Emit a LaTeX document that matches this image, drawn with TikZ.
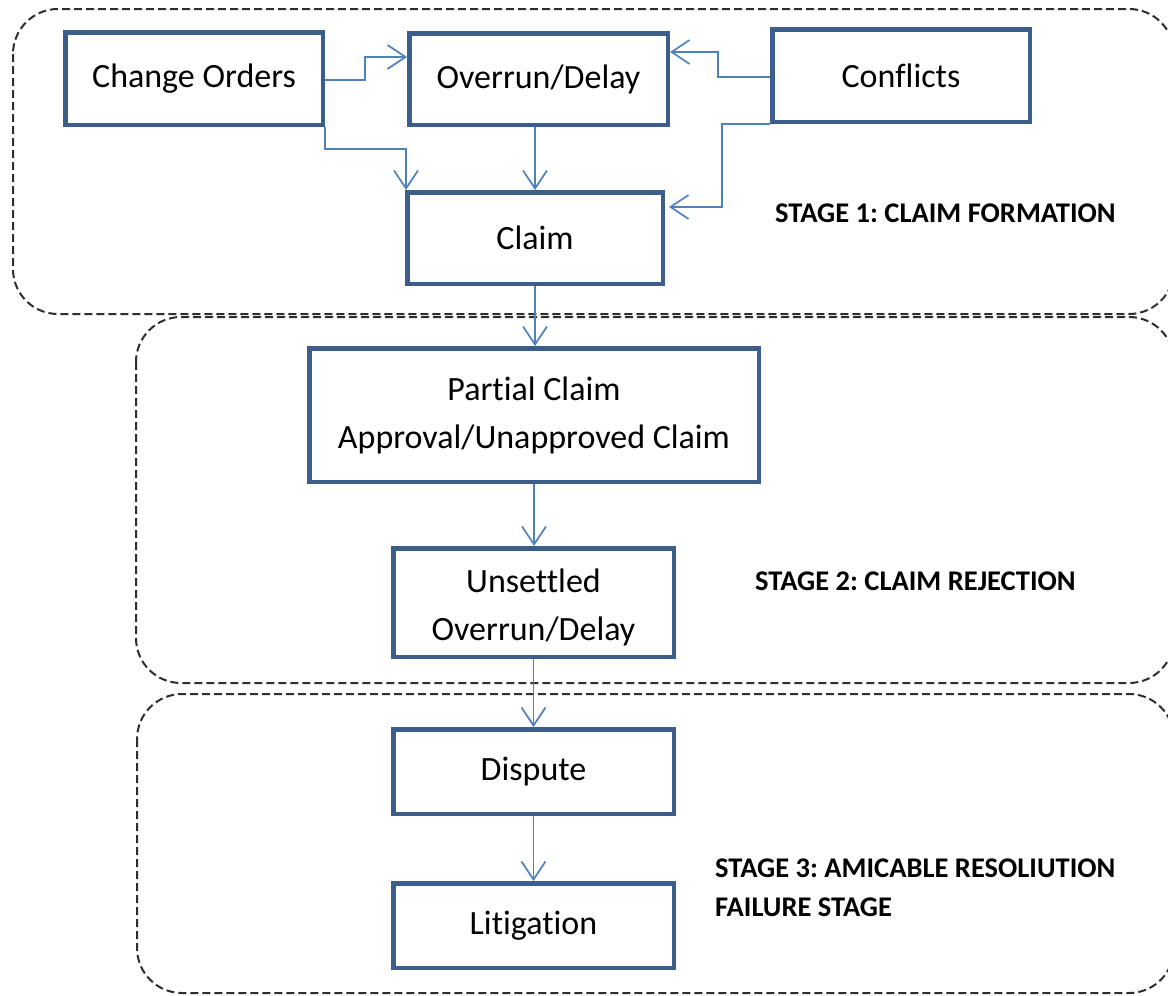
\documentclass[tikz,border=0pt]{standalone}
\usepackage{fontspec}
\setmainfont{Carlito}[Ligatures=NoCommon]
\frenchspacing
\usetikzlibrary{arrows.meta,calc}
\definecolor{boxline}{HTML}{3B5E8C}
\definecolor{arrowblue}{HTML}{4F81BD}
\definecolor{dashgray}{HTML}{2E2E2E}
\begin{document}
\begin{tikzpicture}[x=1pt,y=-1pt,
  box/.style={draw=boxline,line width=4.5pt,fill=white,inner sep=0pt,align=center,
    font=\fontsize{34}{48}\selectfont},
  arr/.style={draw=arrowblue,line width=1.7pt,-{Straight Barb[length=18pt,width=24pt]}},
  stagebox/.style={draw=dashgray,line width=2pt,dash pattern=on 8pt off 4pt,rounded corners=45pt},
  stagelabel/.style={anchor=west,align=left,inner sep=0pt,font=\fontsize{28.5}{39}\selectfont\bfseries}]
\useasboundingbox[fill=white] (0,0) rectangle (1168,996);

% stage containers
\draw[stagebox] (13,9) rectangle (1174,314);
\draw[stagebox] (136,317) rectangle (1174,683);
\draw[stagebox] (137,694) rectangle (1174,993);

% process boxes
\node[box,minimum width=257.5pt,minimum height=92.5pt] (co) at (194,78.5) {Change Orders};
\node[box,minimum width=258.5pt,minimum height=91.5pt] (ov) at (538.5,79) {Overrun/Delay};
\node[box,minimum width=257.5pt,minimum height=92.5pt] (cf) at (901,75.5) {Conflicts};
\node[box,minimum width=255.5pt,minimum height=91.5pt] (cl) at (535,238) {Claim};
\node[box,minimum width=449.5pt,minimum height=133.5pt] (pc) at (534,415) {Partial Claim\\Approval/Unapproved Claim};
\node[box,minimum width=280.5pt,minimum height=108.5pt] (un) at (533.5,602.5) {\strut Unsettled\\Overrun/Delay};
\node[box,minimum width=280.5pt,minimum height=84.5pt] (di) at (533.5,771.5) {Dispute};
\node[box,minimum width=280.5pt,minimum height=84.5pt] (li) at (533.5,925.5) {Litigation};

% stage captions
\node[stagelabel] (s1) at (775,213) {STAGE 1: CLAIM FORMATION};
\node[stagelabel] (s2) at (755,581) {STAGE 2: CLAIM REJECTION};
\node[stagelabel] (s3) at (715,887.5) {STAGE 3: AMICABLE RESOLIUTION\\FAILURE STAGE};

% connectors
\draw[arr] ([yshift=-1.5pt]co.east) -- ++(40,0) |- ([yshift=22pt]ov.west);
\draw[arr] (co.south east) -- ++(0,22) -| ([xshift=1pt]cl.north west);
\draw[arr] (ov.south -| cl.north) -- (cl.north);
\draw[arr] ([yshift=-1.5pt]cf.west) -- ++(-52,0) |- ([yshift=27pt]ov.east);
\draw[arr] (cf.south west) -- ++(-48,0) |- ([xshift=4pt,yshift=31pt]cl.east);
\draw[arr] (cl.south) -- (cl.south |- pc.north);
\draw[arr] (pc.south) -- (pc.south |- un.north);
\draw[arr] (un.south) -- (un.south |- di.north);
\draw[arr] (di.south) -- (li.north);
\end{tikzpicture}
\end{document}
